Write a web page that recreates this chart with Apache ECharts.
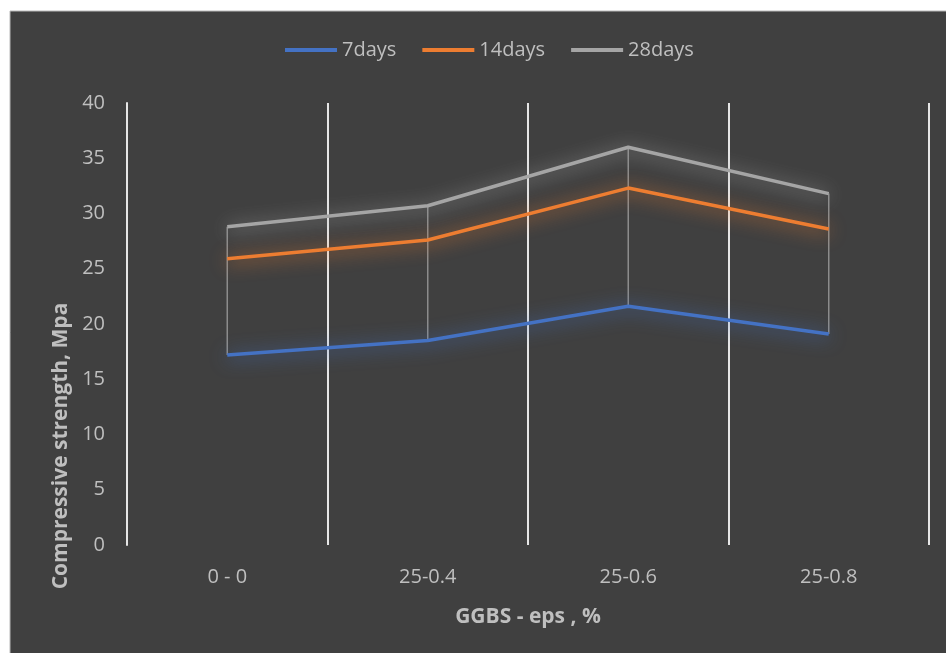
<!DOCTYPE html>
<html>
<head>
<meta charset="utf-8">
<script src="https://cdn.jsdelivr.net/npm/echarts@6/dist/echarts.min.js"></script>
<style>
html,body{margin:0;padding:0;background:#fff;}
#chart{width:946px;height:653px;}
</style>
</head>
<body>
<div id="chart"></div>
<script>
const categories = ['0 - 0', '25-0.4', '25-0.6', '25-0.8'];
const days7 = [17.2, 18.5, 21.6, 19.1];
const days14 = [25.9, 27.6, 32.3, 28.6];
const days28 = [28.8, 30.7, 36.0, 31.8];
const yTicks = { min: 0, max: 40, interval: 5 };
const seriesNames = ['7days', '14days', '28days'];
const seriesColors = ['#4472c4', '#ed7d31', '#a5a5a5'];

const dropData = categories.map((c, i) => {
  const vals = [days7[i], days14[i], days28[i]];
  return [i, Math.min.apply(null, vals), Math.max.apply(null, vals)];
});

const chart = echarts.init(document.getElementById('chart'), null, { renderer: 'canvas' });
const labelColor = '#bfbfbf';
const font = '"Open Sans", "Noto Sans", sans-serif';

function lineSeries(name, data, color) {
  return {
    name: name,
    type: 'line',
    data: data,
    symbol: 'none',
    z: 5,
    lineStyle: {
      color: color,
      width: 3.5,
      shadowColor: color,
      shadowBlur: 18,
      shadowOffsetY: 2
    },
    itemStyle: { color: color }
  };
}

chart.setOption({
  backgroundColor: '#ffffff',
  animation: false,
  graphic: [
    {
      type: 'rect',
      z: -10,
      shape: { x: 10, y: 11, width: 940, height: 650 },
      style: { fill: '#404040', stroke: '#b8b8b8', lineWidth: 1 }
    },
    {
      type: 'text',
      z: 10,
      x: 61,
      y: 446,
      rotation: Math.PI / 2,
      style: {
        text: 'Compressive strength, Mpa',
        fill: labelColor,
        font: 'bold 21px ' + font,
        textAlign: 'center',
        textVerticalAlign: 'middle'
      }
    }
  ],
  legend: {
    top: 35,
    left: 280,
    icon: 'rect',
    itemWidth: 52,
    itemHeight: 4,
    itemGap: 26,
    data: seriesNames,
    textStyle: { color: labelColor, fontSize: 20, fontFamily: font }
  },
  grid: { left: 127, right: 17, top: 103, bottom: 108 },
  xAxis: {
    type: 'category',
    data: categories,
    boundaryGap: true,
    name: 'GGBS - eps , %',
    nameLocation: 'middle',
    nameGap: 62,
    nameTextStyle: { color: labelColor, fontSize: 21, fontWeight: 'bold', fontFamily: font },
    axisLine: { show: false },
    axisTick: { show: false },
    axisLabel: { color: labelColor, fontSize: 20, fontFamily: font, margin: 22 },
    splitLine: { show: true, lineStyle: { color: '#e6e6e6', width: 2 } }
  },
  yAxis: {
    type: 'value',
    min: yTicks.min,
    max: yTicks.max,
    interval: yTicks.interval,
    axisLine: { show: true, lineStyle: { color: '#e6e6e6', width: 2 } },
    axisTick: { show: false },
    splitLine: { show: false },
    axisLabel: { color: labelColor, fontSize: 20, fontFamily: font, margin: 22 }
  },
  series: [
    {
      type: 'custom',
      name: 'drop',
      z: 3,
      silent: true,
      data: dropData,
      renderItem: function (params, api) {
        const p1 = api.coord([api.value(0), api.value(1)]);
        const p2 = api.coord([api.value(0), api.value(2)]);
        return {
          type: 'line',
          shape: { x1: p1[0], y1: p1[1], x2: p2[0], y2: p2[1] },
          style: { stroke: '#8c8c8c', lineWidth: 1.5 }
        };
      }
    },
    lineSeries(seriesNames[0], days7, seriesColors[0]),
    lineSeries(seriesNames[1], days14, seriesColors[1]),
    lineSeries(seriesNames[2], days28, seriesColors[2])
  ]
});
</script>
</body>
</html>
